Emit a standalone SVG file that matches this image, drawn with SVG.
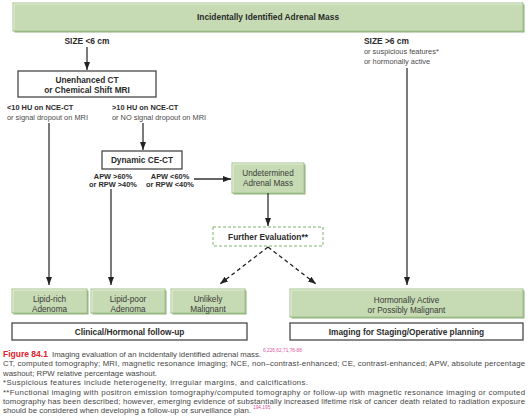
<svg xmlns="http://www.w3.org/2000/svg" width="530" height="417" viewBox="0 0 530 417">
<style>
text{font-family:"Liberation Sans",Arial,Helvetica,sans-serif;fill:#2b2b2b}
.b{font-weight:bold}
.box{font-size:8.3px}
.lbl{font-size:7.4px}
.reg{fill:#4a4a4a}
.gtxt{fill:#3a3a3a;font-size:8.2px}
.cap{font-size:7.8px;fill:#454545}
.sup{font-size:4.8px;fill:#e0559e}
.gshadow{fill:#8fae7b}
.gbox{fill:#c6dbb3;stroke:#a2c28e;stroke-width:1}
.hl{stroke:#e6f0dc;stroke-width:1;fill:none}
.wbox{fill:#fff;stroke:#3a3a3a;stroke-width:1.2}
.dbox{fill:#fff;stroke:#7fb06a;stroke-width:1;stroke-dasharray:3,2}
.ln{stroke:#333;stroke-width:1.3;fill:none}
.dash{stroke:#222;stroke-width:1.3;fill:none;stroke-dasharray:4,3}
</style>
<defs>
<marker id="ah" markerUnits="userSpaceOnUse" markerWidth="8" markerHeight="6" refX="8" refY="3" orient="auto">
<path d="M0,0 L8,3 L0,6 z" fill="#222"/>
</marker>
</defs>

<g id="banner">
<rect class="gshadow" x="14.5" y="4.5" width="510" height="28"/>
<rect class="gbox" x="13" y="3" width="510" height="28"/>
<path class="hl" d="M14,30 V4 H522"/>
<text class="b" x="268" y="20" font-size="8.4" text-anchor="middle">Incidentally Identified Adrenal Mass</text>
</g>

<g id="size-small">
<text class="b" x="87" y="44" font-size="8.4" text-anchor="middle">SIZE &lt;6 cm</text>
</g>

<g id="size-large">
<text class="b" x="364" y="44" font-size="8.4">SIZE &gt;6 cm</text>
<text class="lbl reg" x="364" y="54">or suspicious features*</text>
<text class="lbl reg" x="364" y="64">or hormonally active</text>
</g>

<g id="unenhanced">
<rect class="wbox" x="18" y="71" width="138" height="26"/>
<text class="b box" x="87" y="83" text-anchor="middle">Unenhanced CT</text>
<text class="b box" x="87" y="93" text-anchor="middle">or Chemical Shift MRI</text>
</g>

<g id="label-low-hu">
<text class="b lbl" x="7" y="109.5">&lt;10 HU on NCE-CT</text>
<text class="lbl reg" x="7" y="119.5">or signal dropout on MRI</text>
</g>

<g id="label-high-hu">
<text class="b lbl" x="112" y="109.5">&gt;10 HU on NCE-CT</text>
<text class="lbl reg" x="112" y="119.5">or NO signal dropout on MRI</text>
</g>

<g id="dynamic">
<rect class="wbox" x="102" y="151" width="80" height="18"/>
<text class="b box" x="142" y="163" text-anchor="middle">Dynamic CE-CT</text>
</g>

<g id="label-washout-high">
<text class="b lbl" x="113" y="178.5" text-anchor="middle">APW &gt;60%</text>
<text class="b lbl" x="113" y="187" text-anchor="middle">or RPW &gt;40%</text>
</g>

<g id="label-washout-low">
<text class="b lbl" x="170" y="178.5" text-anchor="middle">APW &lt;60%</text>
<text class="b lbl" x="170" y="187" text-anchor="middle">or RPW &lt;40%</text>
</g>

<g id="undetermined">
<rect class="gshadow" x="233.5" y="164.5" width="72" height="30"/>
<rect class="gbox" x="232" y="163" width="72" height="30"/>
<path class="hl" d="M233,192 V164 H303"/>
<text class="gtxt" x="268" y="176" text-anchor="middle">Undetermined</text>
<text class="gtxt" x="268" y="186" text-anchor="middle">Adrenal Mass</text>
</g>

<g id="further">
<rect class="dbox" x="213" y="227" width="110" height="19"/>
<text class="b box" x="268" y="239.5" text-anchor="middle">Further Evaluation**</text>
</g>

<g id="lipid-rich">
<rect class="gshadow" x="13.5" y="290.5" width="75" height="24"/>
<rect class="gbox" x="12" y="289" width="75" height="24"/>
<path class="hl" d="M13,312 V290 H86"/>
<text class="gtxt" x="49.5" y="302" text-anchor="middle">Lipid-rich</text>
<text class="gtxt" x="49.5" y="312" text-anchor="middle">Adenoma</text>
</g>

<g id="lipid-poor">
<rect class="gshadow" x="92.5" y="290.5" width="74" height="24"/>
<rect class="gbox" x="91" y="289" width="74" height="24"/>
<path class="hl" d="M92,312 V290 H164"/>
<text class="gtxt" x="128" y="302" text-anchor="middle">Lipid-poor</text>
<text class="gtxt" x="128" y="312" text-anchor="middle">Adenoma</text>
</g>

<g id="unlikely">
<rect class="gshadow" x="172.5" y="290.5" width="74" height="24"/>
<rect class="gbox" x="171" y="289" width="74" height="24"/>
<path class="hl" d="M172,312 V290 H244"/>
<text class="gtxt" x="208" y="302" text-anchor="middle">Unlikely</text>
<text class="gtxt" x="208" y="312" text-anchor="middle">Malignant</text>
</g>

<g id="hormonal-active">
<rect class="gshadow" x="291.5" y="290.5" width="233" height="28"/>
<rect class="gbox" x="290" y="289" width="233" height="28"/>
<path class="hl" d="M291,316 V290 H522"/>
<text class="gtxt" x="406.5" y="302.5" text-anchor="middle">Hormonally Active</text>
<text class="gtxt" x="406.5" y="312.5" text-anchor="middle">or Possibly Malignant</text>
</g>

<g id="followup">
<rect class="wbox" x="12" y="323" width="235" height="17"/>
<text class="b box" x="129.5" y="334.5" text-anchor="middle">Clinical/Hormonal follow-up</text>
</g>

<g id="imaging">
<rect class="wbox" x="290" y="323" width="233" height="17"/>
<text class="b box" x="406.5" y="334.5" text-anchor="middle">Imaging for Staging/Operative planning</text>
</g>

<g id="connectors">
<line class="ln" x1="87" y1="47" x2="87" y2="70" marker-end="url(#ah)"/>
<line class="ln" x1="49" y1="123" x2="49" y2="285" marker-end="url(#ah)"/>
<line class="ln" x1="143" y1="123" x2="143" y2="150" marker-end="url(#ah)"/>
<line class="ln" x1="111" y1="189" x2="111" y2="285" marker-end="url(#ah)"/>
<line class="ln" x1="194" y1="179" x2="231" y2="179" marker-end="url(#ah)"/>
<line class="ln" x1="268" y1="193" x2="268" y2="226" marker-end="url(#ah)"/>
<line class="ln" x1="407" y1="68" x2="407" y2="285" marker-end="url(#ah)"/>
<line class="dash" x1="268" y1="247" x2="220" y2="284" marker-end="url(#ah)"/>
<line class="dash" x1="268" y1="247" x2="316" y2="284" marker-end="url(#ah)"/>
</g>

<g id="caption">
<text x="3" y="357" font-size="8.5" class="b" style="fill:#e0202a">Figure 84.1</text>
<text class="cap" x="52" y="357" textLength="209" lengthAdjust="spacing">Imaging evaluation of an incidentally identified adrenal mass.</text>
<text class="sup" x="263" y="351.5">6,226,62,71,76-88</text>
<text class="cap" x="3" y="366" textLength="522" lengthAdjust="spacing">CT, computed tomography; MRI, magnetic resonance imaging; NCE, non–contrast-enhanced; CE, contrast-enhanced; APW, absolute percentage</text>
<text class="cap" x="3" y="375.5" textLength="154" lengthAdjust="spacing">washout; RPW relative percentage washout.</text>
<text class="cap" x="3" y="385" textLength="305" lengthAdjust="spacing">*Suspicious features include heterogeneity, irregular margins, and calcifications.</text>
<text class="cap" x="3" y="394.5" textLength="522" lengthAdjust="spacing">**Functional imaging with positron emission tomography/computed tomography or follow-up with magnetic resonance imaging or computed</text>
<text class="cap" x="3" y="404" textLength="522" lengthAdjust="spacing">tomography has been described; however, emerging evidence of substantially increased lifetime risk of cancer death related to radiation exposure</text>
<text class="cap" x="3" y="413" textLength="248" lengthAdjust="spacing">should be considered when developing a follow-up or surveillance plan.</text>
<text class="sup" x="253" y="408.5">194,195</text>
</g>
</svg>
